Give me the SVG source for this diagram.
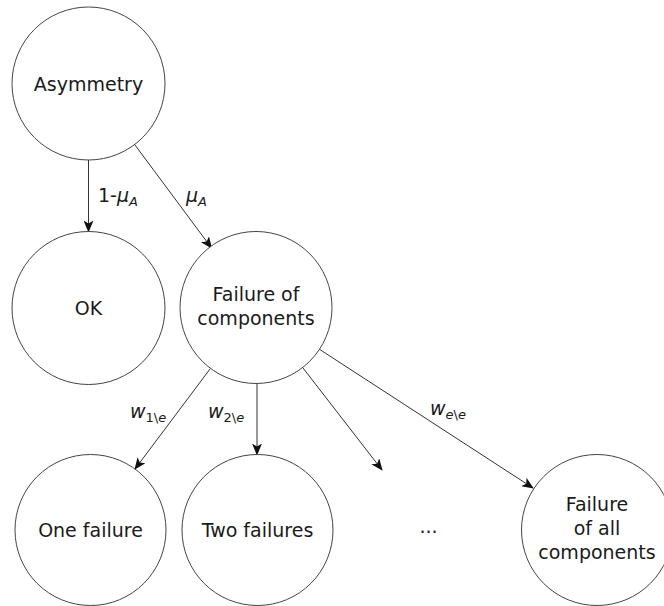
<svg xmlns="http://www.w3.org/2000/svg" width="664" height="606" viewBox="0 0 664 606">
<style>
  .node { fill: #ffffff; stroke: #444444; stroke-width: 1; }
  .lbl { font-family: "DejaVu Sans", Verdana, sans-serif; font-size: 19px; fill: #1a1a1a; text-anchor: middle; }
  .edge { stroke: #333333; stroke-width: 1; fill: none; marker-end: url(#arrow); }
  .elbl { font-family: "DejaVu Sans", Verdana, sans-serif; font-size: 19px; fill: #1a1a1a; }
  .it { font-style: italic; }
  .sub { font-size: 13px; }
</style>
<defs>
  <marker id="arrow" viewBox="0 0 12 10" refX="11" refY="5" markerWidth="12" markerHeight="10" markerUnits="userSpaceOnUse" orient="auto">
    <path d="M0,0 L12,5 L0,10 L3,5 Z" fill="#111111"/>
  </marker>
</defs>
<rect width="664" height="606" fill="#ffffff"/>

<g id="connectors">
  <line class="edge" x1="88.5" y1="160" x2="88.5" y2="231.5"/>
  <line class="edge" x1="135" y1="145" x2="211.5" y2="248"/>
  <line class="edge" x1="210" y1="369" x2="135" y2="469"/>
  <line class="edge" x1="257" y1="383.5" x2="257" y2="454.5"/>
  <line class="edge" x1="303" y1="368" x2="382" y2="470"/>
  <line class="edge" x1="319" y1="349" x2="533" y2="488"/>
  <text class="elbl" x="98" y="202">1-<tspan class="it">μ</tspan><tspan class="sub it" dy="4">A</tspan></text>
  <text class="elbl" x="186" y="202"><tspan class="it">μ</tspan><tspan class="sub it" dy="4">A</tspan></text>
  <text class="elbl" x="130" y="418"><tspan class="it">w</tspan><tspan class="sub" dy="4">1\</tspan><tspan class="sub it">e</tspan></text>
  <text class="elbl" x="208" y="418"><tspan class="it">w</tspan><tspan class="sub" dy="4">2\</tspan><tspan class="sub it">e</tspan></text>
  <text class="elbl" x="430" y="415"><tspan class="it">w</tspan><tspan class="sub it" dy="4">e</tspan><tspan class="sub">\</tspan><tspan class="sub it">e</tspan></text>
</g>

<g id="asymmetry">
  <circle class="node" cx="88.5" cy="83.5" r="76.5"/>
  <text class="lbl" x="88.5" y="90.5">Asymmetry</text>
</g>
<g id="ok">
  <circle class="node" cx="88.5" cy="308" r="76.5"/>
  <text class="lbl" x="88.5" y="315">OK</text>
</g>
<g id="failure-of-components">
  <circle class="node" cx="256" cy="307.5" r="76"/>
  <text class="lbl" x="256" y="300.5">Failure of</text>
  <text class="lbl" x="256" y="325">components</text>
</g>
<g id="one-failure">
  <circle class="node" cx="90.5" cy="530" r="75.5"/>
  <text class="lbl" x="90.5" y="537">One failure</text>
</g>
<g id="two-failures">
  <circle class="node" cx="257.5" cy="530" r="75.5"/>
  <text class="lbl" x="257.5" y="537">Two failures</text>
</g>
<g id="ellipsis">
  <text class="lbl" x="428.5" y="533">...</text>
</g>
<g id="failure-of-all">
  <circle class="node" cx="597" cy="530" r="75.5"/>
  <text class="lbl" x="597" y="511">Failure</text>
  <text class="lbl" x="597" y="535">of all</text>
  <text class="lbl" x="597" y="559">components</text>
</g>
</svg>
